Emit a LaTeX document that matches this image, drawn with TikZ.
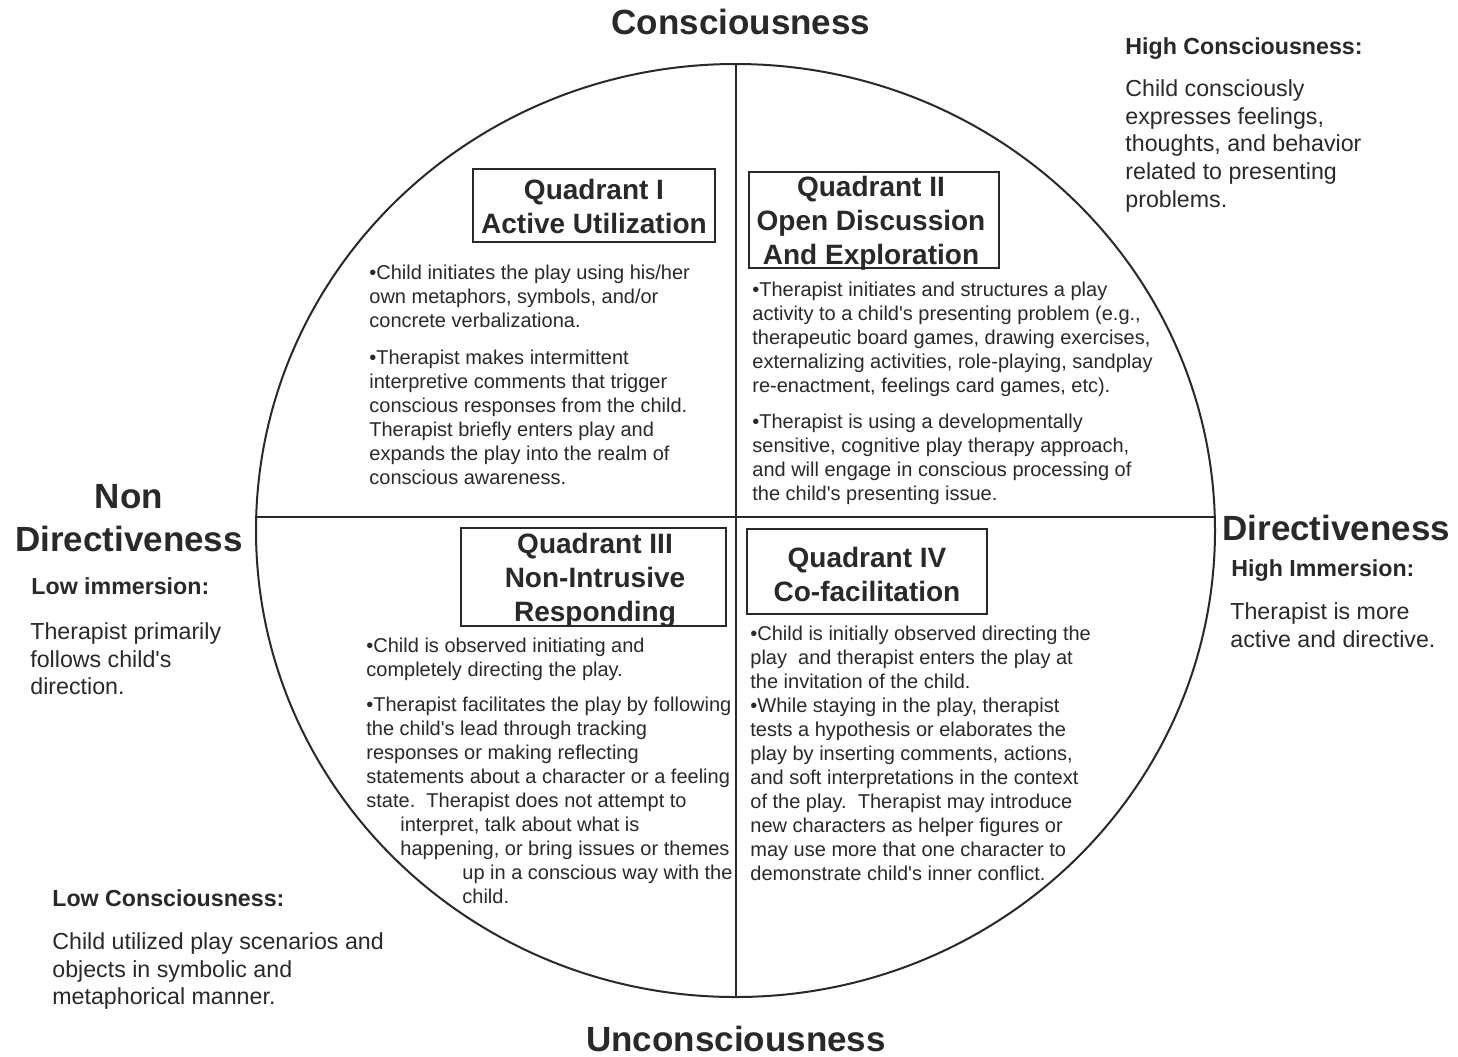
\documentclass[tikz,border=0pt]{standalone}
\usepackage{fontspec}
\setmainfont{Liberation Sans}[Ligatures=TeXOff]
\usetikzlibrary{shapes.geometric}
\definecolor{ink}{gray}{0.16}
\begin{document}
\begin{tikzpicture}[x=0.5pt,y=-0.5pt,
  body/.style={anchor=north west, align=left, inner sep=0pt, text=ink, font=\fontsize{10}{12}\selectfont},
  qtitle/.style={align=center, inner sep=0pt, text=ink, font=\bfseries\fontsize{14}{17}\selectfont},
  tbox/.style={draw=ink, line width=0.8pt, inner sep=0pt},
  big/.style={inner sep=0pt, text=ink, font=\bfseries\fontsize{17.5}{21.5}\selectfont},
  side/.style={anchor=north west, align=left, inner sep=0pt, text=ink, font=\fontsize{11.6}{13.9}\selectfont},
  sidehead/.style={anchor=north west, inner sep=0pt, text=ink, font=\bfseries\fontsize{11.6}{13.9}\selectfont},
  axis/.style={draw=ink, line width=1pt}
]
\useasboundingbox[fill=white] (0,0) rectangle (1458,1056);

% circle and axes
\node[ellipse, axis, inner sep=0pt, minimum width=479.5pt, minimum height=466.5pt] (circ) at (735.5,530.5) {};
\coordinate (vtop) at (736,64.5);
\coordinate (vbot) at (736,996.5);
\coordinate (hl) at (256.5,517);
\coordinate (hr) at (1214.5,517);
\draw[axis] (vtop) -- (vbot);
\draw[axis] (hl) -- (hr);

% axis labels
\node[big] (cons) at (741,22) {Consciousness};
\node[big] (uncons) at (736,1039) {Unconsciousness};
\node[big, align=center] (nondir) at (129,518.5) {Non\\Directiveness};
\node[big, anchor=west] (dir) at (1222,528) {Directiveness};

% side notes
\node[sidehead] (hch) at (1125,37) {High Consciousness:};
\node[side] (hcb) at (1125,79) {Child consciously\\expresses feelings,\\thoughts, and behavior\\related to presenting\\problems.};
\node[sidehead] (lih) at (31,577) {Low immersion:};
\node[side] (lib) at (30,622) {Therapist primarily\\follows child's\\direction.};
\node[sidehead] (hih) at (1231,559) {High Immersion:};
\node[side] (hib) at (1230,602) {Therapist is more\\active and directive.};
\node[sidehead] (lch) at (52,889) {Low Consciousness:};
\node[side] (lcb) at (52,932) {Child utilized play scenarios and\\objects in symbolic and\\metaphorical manner.};

% quadrant title boxes
\node[tbox, minimum width=121pt, minimum height=36.5pt] (q1box) at (594,205.5) {};
\node[qtitle] (q1t) at (594,206) {Quadrant I\\Active Utilization};
\node[tbox, minimum width=125pt, minimum height=48pt] (q2box) at (874,220) {};
\node[qtitle] (q2t) at (871,223) {Quadrant II\\Open Discussion\\And Exploration};
\node[tbox, minimum width=132.5pt, minimum height=49pt] (q3box) at (593.5,577) {};
\node[qtitle] (q3t) at (595,580) {Quadrant III\\Non-Intrusive\\Responding};
\node[tbox, minimum width=120pt, minimum height=42.5pt] (q4box) at (867,571.5) {};
\node[qtitle] (q4t) at (867,574) {Quadrant IV\\Co-facilitation};

% quadrant texts
\node[body] (q1b) at (369,265) {•Child initiates the play using his/her\\own metaphors, symbols, and/or\\concrete verbalizationa.\\[6.5pt]
•Therapist makes intermittent\\interpretive comments that trigger\\conscious responses from the child.\\Therapist briefly enters play and\\expands the play into the realm of\\conscious awareness.};

\node[body] (q2b) at (752,282) {•Therapist initiates and structures a play\\activity to a child's presenting problem (e.g.,\\therapeutic board games, drawing exercises,\\externalizing activities, role-playing, sandplay\\re-enactment, feelings card games, etc).\\[6pt]
•Therapist is using a developmentally\\sensitive, cognitive play therapy approach,\\and will engage in conscious processing of\\the child's presenting issue.};

\node[body] (q3b) at (366,638) {•Child is observed initiating and\\completely directing the play.\\[5.5pt]
•Therapist facilitates the play by following\\the child's lead through tracking\\responses or making reflecting\\statements about a character or a feeling\\state.\ \ Therapist does not attempt to\\\hspace*{17pt}interpret, talk about what is\\\hspace*{17pt}happening, or bring issues or themes\\\hspace*{48pt}up in a conscious way with the\\\hspace*{48pt}child.};

\node[body] (q4b) at (750,626) {•Child is initially observed directing the\\play\ \ and therapist enters the play at\\the invitation of the child.\\
•While staying in the play, therapist\\tests a hypothesis or elaborates the\\play by inserting comments, actions,\\and soft interpretations in the context\\of the play.\ \ Therapist may introduce\\new characters as helper figures or\\may use more that one character to\\demonstrate child's inner conflict.};
\end{tikzpicture}
\end{document}
